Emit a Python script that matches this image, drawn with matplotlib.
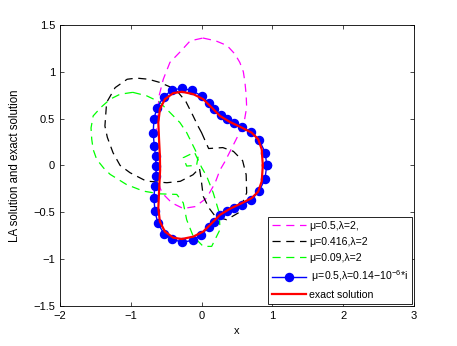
import matplotlib
matplotlib.use("Agg")
import matplotlib.pyplot as plt

plt.rcParams['font.family'] = ['Liberation Sans', 'DejaVu Sans']
plt.rcParams['mathtext.fontset'] = 'custom'
plt.rcParams['mathtext.rm'] = 'Liberation Sans'
plt.rcParams['mathtext.it'] = 'Liberation Sans'

# ---- data ----
mag_x = [0.02, 0.20, 0.36, 0.47, 0.54, 0.59, 0.613, 0.63, 0.637, 0.61, 0.55, 0.45, 0.33, 0.26, 0.19, 0.07,
         -0.09, -0.26, -0.42, -0.55, -0.61, -0.64, -0.645, -0.64, -0.62, -0.60, -0.54, -0.446, -0.305, -0.16, 0.02]
mag_y = [1.36, 1.33, 1.28, 1.19, 1.10, 1.00, 0.886, 0.75, 0.62, 0.50, 0.37, 0.22, 0.04, -0.05, -0.19, -0.35,
         -0.44, -0.46, -0.40, -0.30, -0.20, -0.05, 0.15, 0.35, 0.55, 0.74, 0.92, 1.10, 1.21, 1.33, 1.36]

blk_x = [0.0, 0.10, 0.30, 0.45, 0.58, 0.63, 0.637, 0.52, 0.355, 0.20, 0.10, 0.024, -0.01, -0.03, -0.12, -0.30,
         -0.49, -0.78, -1.01, -1.15, -1.25, -1.33, -1.364, -1.34, -1.22, -1.05, -0.917, -0.75, -0.59, -0.45,
         -0.33, -0.22, -0.12, -0.05, 0.0]
blk_y = [0.35, 0.18, 0.19, 0.15, 0.05, -0.10, -0.293, -0.507, -0.58, -0.55, -0.45, -0.33, -0.12, -0.03, -0.10, -0.17,
         -0.185, -0.168, -0.078, 0.0, 0.136, 0.30, 0.42, 0.672, 0.83, 0.92, 0.932, 0.92, 0.886, 0.84,
         0.78, 0.68, 0.53, 0.42, 0.35]

grn_x = [-0.97, -1.15, -1.29, -1.42, -1.53, -1.56, -1.55, -1.53, -1.48, -1.38, -1.29, -1.06, -0.82, -0.588, -0.35,
         -0.258, -0.21, -0.117, 0.024, 0.143, 0.26, 0.25, 0.165, 0.072, 0.0, -0.10, -0.258, -0.21, -0.07, -0.047,
         -0.117, -0.21, -0.305, -0.446, -0.60, -0.775, -0.97]
grn_y = [0.78, 0.76, 0.707, 0.62, 0.528, 0.40, 0.279, 0.17, 0.064, -0.03, -0.096, -0.204, -0.275, -0.304, -0.31,
         -0.40, -0.58, -0.758, -0.865, -0.865, -0.686, -0.507, -0.293, -0.115, -0.02, 0.14, 0.082, -0.007, 0.0, 0.10,
         0.207, 0.35, 0.457, 0.565, 0.68, 0.743, 0.78]

blu_x = [0.92, 0.90, 0.81, 0.70, 0.566, 0.453, 0.355, 0.27, 0.175, 0.10, 0.0, -0.13, -0.277, -0.414, -0.535,
         -0.626, -0.672, -0.682, -0.668, -0.648, -0.644, -0.64, -0.66, -0.672, -0.658, -0.615, -0.53, -0.414,
         -0.272, -0.12, -0.004, 0.10, 0.18, 0.265, 0.355, 0.46, 0.57, 0.70, 0.81, 0.895, 0.92]
blu_y = [0.0, 0.136, 0.275, 0.354, 0.415, 0.45, 0.49, 0.533, 0.60, 0.665, 0.74, 0.80, 0.822, 0.807, 0.732,
         0.618, 0.50, 0.35, 0.207, 0.10, -0.01, -0.115, -0.22, -0.346, -0.49, -0.62, -0.73, -0.79,
         -0.82, -0.80, -0.74, -0.66, -0.60, -0.53, -0.49, -0.46, -0.425, -0.37, -0.275, -0.15, 0.0]

red_x = [0.865, 0.85, 0.80, 0.707, 0.566, 0.40, 0.26, 0.143, 0.024, -0.117, -0.277, -0.40, -0.517, -0.588,
         -0.61, -0.60, -0.588, -0.585, -0.60, -0.61, -0.588, -0.517, -0.40, -0.277, -0.117, 0.024, 0.143,
         0.26, 0.40, 0.566, 0.707, 0.80, 0.85, 0.865]
red_y = [0.0, 0.17, 0.28, 0.35, 0.404, 0.464, 0.528, 0.618, 0.707, 0.761, 0.786, 0.772, 0.707, 0.60,
         0.457, 0.279, 0.10, -0.05, -0.28, -0.457, -0.60, -0.707, -0.772, -0.786, -0.761, -0.707, -0.618,
         -0.528, -0.464, -0.404, -0.35, -0.28, -0.17, 0.0]

labels = ['μ=0.5,λ=2,', 'μ=0.416,λ=2', 'μ=0.09,λ=2',
          ' μ=0.5,λ=0.14−10$^{-6}$*i', 'exact solution']
x_ticks = [-2, -1, 0, 1, 2, 3]
y_ticks = [-1.5, -1, -0.5, 0, 0.5, 1, 1.5]
y_ticklabels = ['\u22121.5', '\u22121', '\u22120.5', '0', '0.5', '1', '1.5']
x_ticklabels = ['\u22122', '\u22121', '0', '1', '2', '3']

# ---- figure ----
fig = plt.figure(figsize=(4.57, 3.46), dpi=100)
ax = fig.add_axes([0.131, 0.116, 0.775, 0.812])

dash = (0, (6.5, 4.5))
ax.plot(mag_x, mag_y, color='#ff00ff', lw=0.9, linestyle=dash, label=labels[0])
ax.plot(blk_x, blk_y, color='black', lw=0.9, linestyle=dash, label=labels[1])
ax.plot(grn_x, grn_y, color='#00ff00', lw=0.9, linestyle=dash, label=labels[2])
ax.plot(blu_x, blu_y, color='#0000ff', lw=1.0, marker='o', markersize=5.8,
        markerfacecolor='#0000ff', markeredgecolor='#0000ff', label=labels[3])
ax.plot(red_x, red_y, color='#ff0000', lw=1.6, label=labels[4])

ax.set_xlim(-2, 3)
ax.set_ylim(-1.5, 1.5)
ax.set_xticks(x_ticks)
ax.set_xticklabels(x_ticklabels)
ax.set_yticks(y_ticks)
ax.set_yticklabels(y_ticklabels)
ax.tick_params(axis='both', direction='in', top=True, right=True, length=3, width=0.5,
               labelsize=8)
ax.tick_params(axis='x', pad=4)
ax.tick_params(axis='y', pad=3.5)
for s in ax.spines.values():
    s.set_linewidth(0.6)
ax.set_xlabel('x', fontsize=8, labelpad=3)
ax.set_ylabel('LA solution and exact solution', fontsize=8.3, labelpad=9)

leg = ax.legend(loc='lower right', fontsize=7.6, frameon=True, fancybox=False,
                framealpha=1, edgecolor='black', handlelength=3.2,
                labelspacing=0.55, borderaxespad=0.15, borderpad=0.4, handletextpad=0.3)
leg.get_frame().set_linewidth(0.6)

fig.savefig('out.png', dpi=100)
